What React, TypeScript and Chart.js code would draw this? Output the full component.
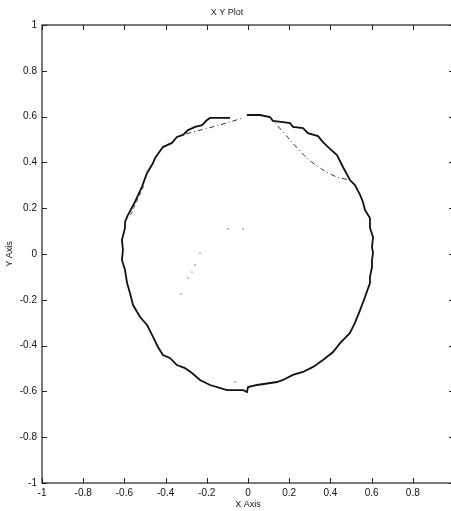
import React, { useEffect, useRef } from "react";
import { Chart, registerables } from "chart.js";

Chart.register(...registerables);

// Main traced outline (x, y)
const outlineX = [
  -0.005, 0.058, 0.107, 0.121, 0.17, 0.204, 0.218, 0.267, 0.291, 0.34, 0.364, 0.398, 0.432,
  0.461, 0.495, 0.519, 0.544,
  0.558, 0.568, 0.592, 0.592, 0.607, 0.602, 0.607, 0.602, 0.602, 0.592, 0.592,
  0.568, 0.544, 0.519, 0.495, 0.447, 0.413, 0.364, 0.316, 0.267, 0.218, 0.17, 0.141, 0.044,
  0.0, -0.005, -0.024, -0.102, -0.184, -0.233, -0.272, -0.306, -0.345, -0.379, -0.413,
  -0.437, -0.461, -0.49, -0.524, -0.558, -0.573,
  -0.587, -0.597, -0.612, -0.607, -0.612, -0.597, -0.597, -0.583, -0.549, -0.515, -0.49,
  -0.461, -0.451, -0.413,
  -0.369, -0.345, -0.316, -0.291, -0.257, -0.223, -0.199, -0.184, -0.087,
];
const outlineY = [
  0.607, 0.607, 0.598, 0.581, 0.576, 0.572, 0.555, 0.55, 0.528, 0.515, 0.489, 0.459, 0.432,
  0.38, 0.323, 0.301, 0.258,
  0.227, 0.192, 0.157, 0.114, 0.074, 0.031, 0.004, -0.026, -0.057, -0.1, -0.127,
  -0.188, -0.245, -0.301, -0.345, -0.389, -0.428, -0.463, -0.493, -0.515, -0.528, -0.55,
  -0.559, -0.572, -0.581, -0.603, -0.594, -0.594, -0.572, -0.55, -0.52, -0.498, -0.485,
  -0.454, -0.441, -0.406, -0.362, -0.31, -0.275, -0.223, -0.17,
  -0.127, -0.07, -0.026, 0.017, 0.061, 0.114, 0.14, 0.17, 0.227, 0.293, 0.354,
  0.397, 0.419, 0.467,
  0.485, 0.511, 0.52, 0.541, 0.555, 0.563, 0.585, 0.594, 0.594,
];

// Dashed chord, upper left
const chordAX = [-0.3, -0.15, -0.024];
const chordAY = [0.525, 0.56, 0.594];

// Dashed curve, upper right
const chordBX = [0.107, 0.204, 0.286, 0.364, 0.432, 0.495];
const chordBY = [0.598, 0.498, 0.419, 0.367, 0.336, 0.323];

// Dashed segment, left side
const chordCX = [-0.57, -0.535, -0.5];
const chordCY = [0.17, 0.24, 0.31];

// Stray dots inside
const dotsX = [-0.097, -0.024, -0.233, -0.257, -0.272, -0.291, -0.325, -0.063];
const dotsY = [0.109, 0.109, 0.004, -0.048, -0.079, -0.105, -0.175, -0.559];

const xTicks = [-1, -0.8, -0.6, -0.4, -0.2, 0, 0.2, 0.4, 0.6, 0.8, 1];
const yTicks = [-1, -0.8, -0.6, -0.4, -0.2, 0, 0.2, 0.4, 0.6, 0.8, 1];

const pts = (xs: number[], ys: number[]) => xs.map((x, i) => ({ x, y: ys[i] }));

const FONT = "'Liberation Sans', Arial, sans-serif";

const inwardTicks = {
  id: "inwardTicks",
  afterDraw(chart: any) {
    const { ctx, chartArea: a, scales } = chart;
    ctx.save();
    ctx.strokeStyle = "#222";
    ctx.lineWidth = 1.2;
    ctx.strokeRect(a.left, a.top, a.right - a.left, a.bottom - a.top);
    ctx.lineWidth = 1;
    const L = 5;
    ctx.beginPath();
    scales.x.ticks.forEach((t: any) => {
      const p = Math.round(scales.x.getPixelForValue(t.value)) + 0.5;
      ctx.moveTo(p, a.bottom);
      ctx.lineTo(p, a.bottom - L);
      ctx.moveTo(p, a.top);
      ctx.lineTo(p, a.top + L);
    });
    scales.y.ticks.forEach((t: any) => {
      const p = Math.round(scales.y.getPixelForValue(t.value)) + 0.5;
      ctx.moveTo(a.left, p);
      ctx.lineTo(a.left + L, p);
      ctx.moveTo(a.right, p);
      ctx.lineTo(a.right - L, p);
    });
    ctx.stroke();
    ctx.restore();
  },
};

export default function App() {
  const ref = useRef<HTMLCanvasElement | null>(null);

  useEffect(() => {
    if (!ref.current) return;
    const chart = new Chart(ref.current, {
      type: "scatter",
      data: {
        datasets: [
          {
            data: pts(outlineX, outlineY),
            showLine: true,
            borderColor: "#111",
            borderWidth: 1.8,
            pointRadius: 0,
            tension: 0,
          },
          {
            data: pts(chordAX, chordAY),
            showLine: true,
            borderColor: "#333",
            borderWidth: 1,
            borderDash: [5, 3, 1, 3],
            pointRadius: 0,
          },
          {
            data: pts(chordBX, chordBY),
            showLine: true,
            borderColor: "#333",
            borderWidth: 1,
            borderDash: [5, 3, 1, 3],
            pointRadius: 0,
            tension: 0.3,
          },
          {
            data: pts(chordCX, chordCY),
            showLine: true,
            borderColor: "#555",
            borderWidth: 1,
            borderDash: [4, 3],
            pointRadius: 0,
          },
          {
            data: pts(dotsX, dotsY),
            showLine: false,
            pointRadius: 1,
            pointStyle: "rect",
            backgroundColor: "#888",
            borderWidth: 0,
          },
        ],
      },
      options: {
        animation: false,
        responsive: false,
        layout: { padding: { left: 0, right: 42, top: 0, bottom: 0 } },
        plugins: {
          legend: { display: false },
          tooltip: { enabled: false },
          title: {
            display: true,
            text: "X Y Plot",
            color: "#222",
            font: { family: FONT, size: 9, lineHeight: 1, weight: "normal" },
            padding: { top: 8, bottom: 8 },
          },
        },
        scales: {
          x: {
            type: "linear",
            min: -1,
            max: 1,
            afterBuildTicks: (s: any) => {
              s.ticks = xTicks.map((v) => ({ value: v }));
            },
            afterFit: (s: any) => {
              s.height = 28;
            },
            grid: { display: false, drawTicks: false },
            border: { display: false },
            ticks: {
              padding: 4,
              color: "#111",
              font: { family: FONT, size: 10 },
              callback: (v: any) => (v === 1 ? "" : String(v)),
            },
            title: {
              display: true,
              text: "X Axis",
              color: "#111",
              font: { family: FONT, size: 9 },
              padding: { top: 0, bottom: 1 },
            },
          },
          y: {
            type: "linear",
            min: -1,
            max: 1,
            afterBuildTicks: (s: any) => {
              s.ticks = yTicks.map((v) => ({ value: v }));
            },
            afterFit: (s: any) => {
              s.width = 42;
            },
            grid: { display: false, drawTicks: false },
            border: { display: false },
            ticks: {
              padding: 5,
              color: "#111",
              font: { family: FONT, size: 10 },
              callback: (v: any) => String(v),
            },
            title: {
              display: true,
              text: "Y Axis",
              color: "#111",
              font: { family: FONT, size: 9 },
              padding: { top: 4, bottom: 0 },
            },
          },
        },
      },
      plugins: [inwardTicks],
    } as any);
    return () => chart.destroy();
  }, []);

  return (
    <div
      style={{
        position: "absolute",
        left: 0,
        top: 0,
        width: 451,
        height: 511,
        overflow: "hidden",
        background: "#fff",
      }}
    >
      <canvas ref={ref} width={496} height={511} style={{ width: 496, height: 511, display: "block" }} />
    </div>
  );
}
